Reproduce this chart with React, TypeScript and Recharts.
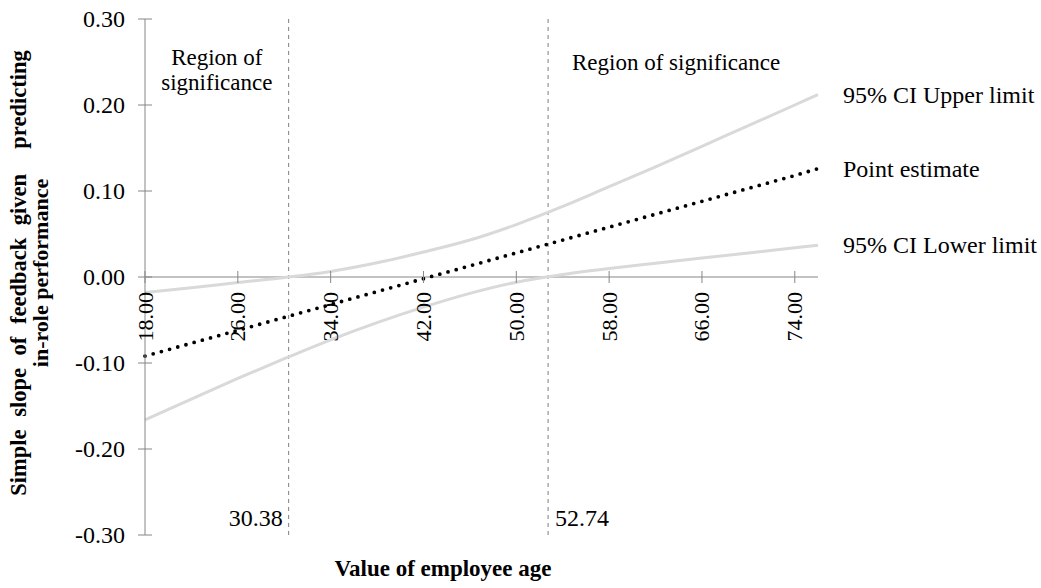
import React from 'react';
import {
  LineChart,
  Line,
  XAxis,
  YAxis,
  ReferenceLine,
  ReferenceArea,
  ReferenceDot,
} from 'recharts';

// ---- data ----
const ages = [18, 22, 26, 30, 34, 38, 42, 46, 50, 54, 58, 62, 66, 70, 74, 76];
const upperLimit = [-0.018, -0.0125, -0.0065, -0.0006, 0.0065, 0.0165, 0.029, 0.043, 0.061, 0.082, 0.105, 0.128, 0.152, 0.176, 0.2, 0.212];
const pointEstimate = [-0.092, -0.077, -0.062, -0.047, -0.032, -0.017, -0.002, 0.013, 0.028, 0.043, 0.058, 0.073, 0.088, 0.103, 0.118, 0.126];
const lowerLimit = [-0.166, -0.142, -0.118, -0.095, -0.073, -0.053, -0.035, -0.019, -0.006, 0.003, 0.01, 0.016, 0.022, 0.028, 0.034, 0.037];

const xTicks = [18, 26, 34, 42, 50, 58, 66, 74];
const yTicks = [0.3, 0.2, 0.1, 0, -0.1, -0.2, -0.3];
const boundaries = [30.38, 52.74];
const seriesLabels = ['95% CI Upper limit', 'Point estimate', '95% CI Lower limit'];
const regionLabel = 'Region of significance';
const xTitle = 'Value of employee age';
const yTitleLines = ['Simple slope of feedback given  predicting', 'in-role performance'];

const data = ages.map((age, i) => ({
  age,
  upper: upperLimit[i],
  point: pointEstimate[i],
  lower: lowerLimit[i],
}));

const FONT = "'Liberation Serif', 'Times New Roman', Times, serif";
const AXIS = '#868686';
const CI = '#d9d9d9';
const TXT = '#000000';

const YTick = (props: any) => {
  const { x, y, payload } = props;
  const ax = x + 20;
  return (
    <g>
      <line x1={ax - 7} x2={ax + 7} y1={y} y2={y} stroke={AXIS} strokeWidth={1} />
      <text
        x={x}
        y={y}
        textAnchor="end"
        dominantBaseline="central"
        fontFamily={FONT}
        fontSize={24}
        fill={TXT}
      >
        {Number(payload.value).toFixed(2)}
      </text>
    </g>
  );
};

const XTickShape = (value: number) => (props: any) => {
  const { cx, cy } = props;
  return (
    <g>
      <line x1={cx} x2={cx} y1={cy - 6} y2={cy + 6} stroke={AXIS} strokeWidth={1} />
      <text
        x={cx}
        y={cy + 15}
        transform={`rotate(-90 ${cx} ${cy + 15})`}
        textAnchor="end"
        dominantBaseline="central"
        fontFamily={FONT}
        fontSize={22}
        fill={TXT}
      >
        {value.toFixed(2)}
      </text>
    </g>
  );
};

const EndLabel = (text: string) => (props: any) => {
  const { cx, cy } = props;
  return (
    <text
      x={cx + 25}
      y={cy}
      dominantBaseline="central"
      fontFamily={FONT}
      fontSize={24}
      fill={TXT}
    >
      {text}
    </text>
  );
};

const Titles = () => (
  <g>
    {yTitleLines.map((t, i) => {
      const x = 18 + i * 22;
      const y = 273;
      return (
        <text
          key={i}
          x={x}
          y={y}
          transform={`rotate(-90 ${x} ${y})`}
          textAnchor="middle"
          dominantBaseline="central"
          fontFamily={FONT}
          fontWeight="bold"
          fontSize={i === 0 ? 22.5 : 22}
          fill={TXT}
          style={{ whiteSpace: 'pre', wordSpacing: i === 0 ? 7 : 0 }}
        >
          {t}
        </text>
      );
    })}
    <text
      x={443}
      y={568}
      textAnchor="middle"
      dominantBaseline="central"
      fontFamily={FONT}
      fontWeight="bold"
      fontSize={23}
      fill={TXT}
    >
      {xTitle}
    </text>
  </g>
);

const LeftRegionLabel = (props: any) => {
  const { viewBox } = props;
  const cx = viewBox.x + viewBox.width / 2;
  const words = regionLabel.split(' ');
  return (
    <g fontFamily={FONT} fontSize={23} fill={TXT}>
      <text x={cx} y={viewBox.y + 38} textAnchor="middle" dominantBaseline="central">
        {words.slice(0, 2).join(' ')}
      </text>
      <text x={cx} y={viewBox.y + 63} textAnchor="middle" dominantBaseline="central">
        {words.slice(2).join(' ')}
      </text>
    </g>
  );
};

const RightRegionLabel = (props: any) => {
  const { viewBox } = props;
  const cx = viewBox.x + viewBox.width / 2 - 7;
  return (
    <text
      x={cx}
      y={viewBox.y + 43}
      textAnchor="middle"
      dominantBaseline="central"
      fontFamily={FONT}
      fontSize={23}
      fill={TXT}
    >
      {regionLabel}
    </text>
  );
};

const BoundaryLabel = (value: number, side: 'left' | 'right') => (props: any) => {
  const { viewBox } = props;
  const x = side === 'left' ? viewBox.x - 6 : viewBox.x + 7;
  const y = viewBox.y + viewBox.height - 17;
  return (
    <text
      x={x}
      y={y}
      textAnchor={side === 'left' ? 'end' : 'start'}
      dominantBaseline="central"
      fontFamily={FONT}
      fontSize={24}
      fill={TXT}
    >
      {value.toFixed(2)}
    </text>
  );
};

export default function App() {
  const last = data.length - 1;
  return (
    <div style={{ position: 'absolute', left: 0, top: 0, width: 1041, height: 588, background: '#fff' }}>
      <LineChart
        width={1041}
        height={588}
        data={data}
        margin={{ top: 19, right: 223, bottom: 53, left: 0 }}
        style={{ fontFamily: FONT }}
      >
        <XAxis
          dataKey="age"
          type="number"
          domain={[18, 76]}
          ticks={xTicks}
          axisLine={false}
          tickLine={false}
          tick={false}
          height={0}
        />
        <YAxis
          type="number"
          domain={[-0.3, 0.3]}
          ticks={yTicks}
          width={145}
          axisLine={{ stroke: AXIS, strokeWidth: 1 }}
          tickLine={false}
          tickSize={0}
          tickMargin={20}
          tick={<YTick />}
          interval={0}
          label={{ content: () => <Titles /> }}
        />
        <ReferenceArea
          x1={18}
          x2={boundaries[0]}
          fill="none"
          fillOpacity={0}
          stroke="none"
          label={LeftRegionLabel}
        />
        <ReferenceArea
          x1={boundaries[1]}
          x2={76}
          fill="none"
          fillOpacity={0}
          stroke="none"
          label={RightRegionLabel}
        />
        <ReferenceLine y={0} stroke={AXIS} strokeWidth={1} />
        <ReferenceLine
          x={boundaries[0]}
          stroke="#7f7f7f"
          strokeWidth={1}
          strokeDasharray="4 4"
          label={BoundaryLabel(boundaries[0], 'left')}
        />
        <ReferenceLine
          x={boundaries[1]}
          stroke="#7f7f7f"
          strokeWidth={1}
          strokeDasharray="4 4"
          label={BoundaryLabel(boundaries[1], 'right')}
        />
        {xTicks.map((t) => (
          <ReferenceDot key={t} x={t} y={0} r={0} shape={XTickShape(t)} ifOverflow="visible" />
        ))}
        <Line
          type="monotone"
          dataKey="upper"
          stroke={CI}
          strokeWidth={3}
          dot={false}
          activeDot={false}
          isAnimationActive={false}
        />
        <Line
          type="monotone"
          dataKey="lower"
          stroke={CI}
          strokeWidth={3}
          dot={false}
          activeDot={false}
          isAnimationActive={false}
        />
        <Line
          type="linear"
          dataKey="point"
          stroke="#000"
          strokeWidth={3.8}
          strokeDasharray="0 8.5"
          strokeLinecap="round"
          dot={false}
          activeDot={false}
          isAnimationActive={false}
        />
        <ReferenceDot x={ages[last]} y={upperLimit[last]} r={0} shape={EndLabel(seriesLabels[0])} ifOverflow="visible" />
        <ReferenceDot x={ages[last]} y={pointEstimate[last]} r={0} shape={EndLabel(seriesLabels[1])} ifOverflow="visible" />
        <ReferenceDot x={ages[last]} y={lowerLimit[last]} r={0} shape={EndLabel(seriesLabels[2])} ifOverflow="visible" />
      </LineChart>
    </div>
  );
}
